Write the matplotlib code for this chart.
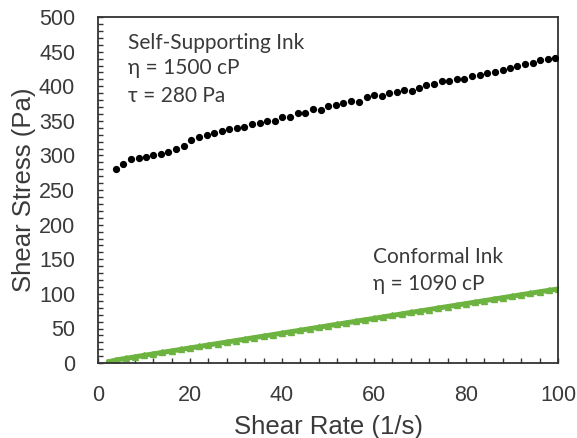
import matplotlib.pyplot as plt
from matplotlib.ticker import MultipleLocator

# self-supporting ink (black dots)
rate_ss = [3.9, 5.5, 7.1, 8.8, 10.4, 12.0, 13.7, 15.3, 17.0, 18.6,
           20.3, 21.9, 23.6, 25.2, 26.9, 28.5, 30.1, 31.8, 33.4, 35.1,
           36.8, 38.4, 40.1, 41.8, 43.4, 45.1, 46.8, 48.4, 50.1, 51.7,
           53.3, 55.0, 56.7, 58.4, 60.0, 61.7, 63.3, 64.9, 66.6, 68.2,
           69.8, 71.4, 73.0, 74.7, 76.4, 78.0, 79.6, 81.3, 83.0, 84.6,
           86.3, 88.0, 89.6, 91.2, 92.8, 94.5, 96.1, 97.8, 99.4]
stress_ss = [281, 288, 295, 297, 298, 300, 302, 305, 309, 314,
             323, 326, 329, 332, 336, 339, 340, 341, 345, 347,
             350, 350, 356, 356, 362, 361, 367, 366, 372, 373,
             376, 379, 378, 384, 387, 386, 391, 392, 394, 393,
             398, 402, 404, 407, 408, 410, 411, 415, 417, 419,
             421, 423, 426, 430, 432, 434, 438, 439, 441]

# conformal ink (green)
rate_cf = [2, 4, 6, 8, 10, 12, 14, 16, 18, 20,
           22, 24, 26, 28, 30, 32, 34, 36, 38, 40,
           42, 44, 46, 48, 50, 52, 54, 56, 58, 60,
           62, 64, 66, 68, 70, 72, 74, 76, 78, 80,
           82, 84, 86, 88, 90, 92, 94, 96, 98, 100]
stress_cf = [1.5, 4.6, 6.8, 9.0, 11.2, 13.3, 15.5, 17.6, 19.8, 21.9,
             24.0, 26.2, 28.3, 30.4, 32.6, 34.7, 36.9, 39.0, 41.1, 43.3,
             45.4, 47.5, 49.7, 51.8, 54.0, 56.1, 58.2, 60.4, 62.5, 64.6,
             66.8, 68.9, 71.0, 73.2, 75.3, 77.4, 79.6, 81.7, 83.8, 86.0,
             88.1, 90.2, 92.4, 94.5, 96.6, 98.8, 100.9, 103.0, 105.1, 107.0]

x_ticks = [0, 20, 40, 60, 80, 100]
y_ticks = [0, 50, 100, 150, 200, 250, 300, 350, 400, 450, 500]

grey = '#3a3a3a'
green = '#6cb33f'
plt.rcParams['font.family'] = ['Liberation Sans', 'DejaVu Sans']

fig = plt.figure(figsize=(5.77, 4.38), dpi=100)
ax = fig.add_axes([0.170, 0.171, 0.797, 0.790])

ax.plot(rate_cf, stress_cf, color=green, lw=3.6, solid_capstyle='butt', zorder=2)
ax.plot(rate_cf, stress_cf, ls='none', marker='^', ms=4, color=green, zorder=2)
ax.plot(rate_ss, stress_ss, ls='none', marker='o', ms=4.2, color='black', zorder=3)

ax.set_xlim(0, 100)
ax.set_ylim(0, 500)
ax.set_xticks(x_ticks)
ax.set_yticks(y_ticks)
ax.xaxis.set_minor_locator(MultipleLocator(4))
ax.yaxis.set_minor_locator(MultipleLocator(10))
ax.tick_params(which='both', direction='in', length=3.5, width=1, color='#333333',
               labelsize=15.5, labelcolor=grey)
ax.tick_params(axis='x', pad=16)
ax.tick_params(axis='y', pad=16.5)
for side in ['left', 'right', 'top', 'bottom']:
    ax.spines[side].set_linewidth(1.3)
    ax.spines[side].set_color('#333333')

ax.set_xlabel('Shear Rate (1/s)', fontsize=18.5, color=grey, labelpad=6)
ax.set_ylabel('Shear Stress (Pa)', fontsize=18.5, color=grey, labelpad=2)

note = dict(fontsize=15, color=grey, family=['Lato', 'DejaVu Sans'])
ax.text(6.5, 454, 'Self-Supporting Ink', **note)
ax.text(6.5, 418, 'η = 1500 cP', **note)
ax.text(6.5, 377, 'τ = 280 Pa', **note)
ax.text(59.8, 144, 'Conformal Ink', **note)
ax.text(59.8, 105, 'η = 1090 cP', **note)

fig.savefig('out.png', dpi=100)
